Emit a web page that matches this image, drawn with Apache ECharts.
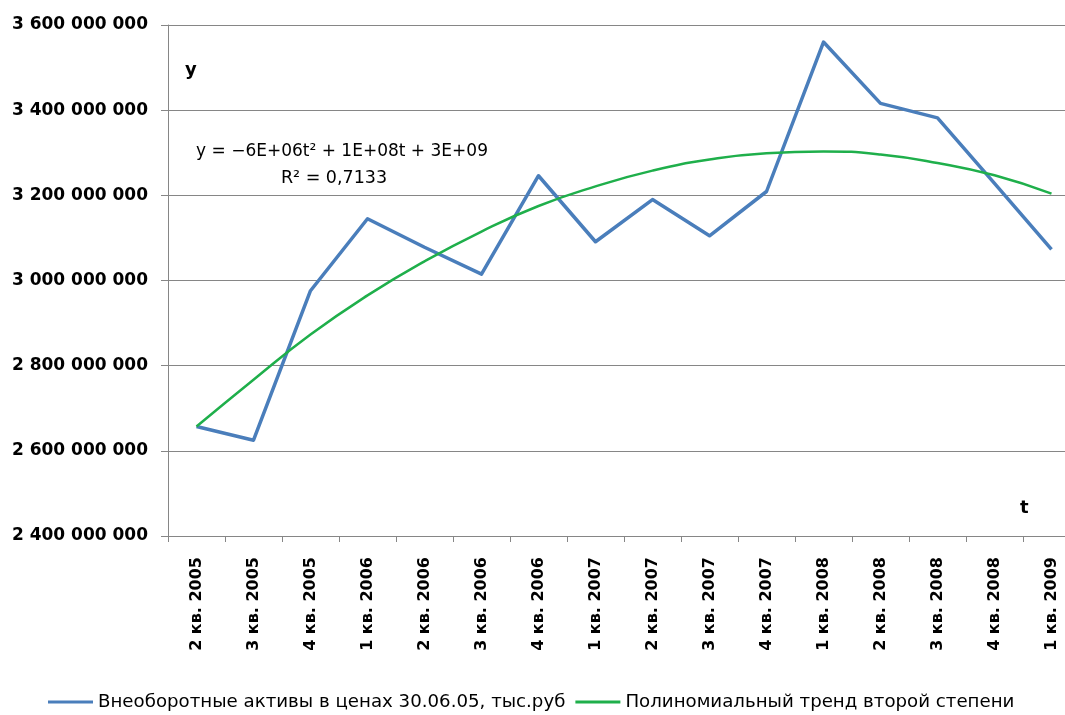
<!DOCTYPE html>
<html>
<head>
<meta charset="utf-8">
<script src="https://cdn.jsdelivr.net/npm/echarts@6/dist/echarts.min.js"></script>
<style>
  html, body { margin: 0; padding: 0; background: #ffffff; overflow: hidden; }
  /* the plot area runs a little past the right edge of the window */
  #chart { width: 1080px; height: 715px; }
</style>
</head>
<body>
<div id="chart"></div>
<script>
// Quarters
const quarters = [
  '2 кв. 2005', '3 кв. 2005', '4 кв. 2005',
  '1 кв. 2006', '2 кв. 2006', '3 кв. 2006', '4 кв. 2006',
  '1 кв. 2007', '2 кв. 2007', '3 кв. 2007', '4 кв. 2007',
  '1 кв. 2008', '2 кв. 2008', '3 кв. 2008', '4 кв. 2008',
  '1 кв. 2009'
];

// Non-current assets, thousand roubles (prices of 30.06.05)
const assets = [
  2657000000, 2625000000, 2976000000,
  3145000000, 3078000000, 3015000000, 3246000000,
  3091000000, 3190000000, 3105000000, 3209000000,
  3560000000, 3416000000, 3382000000, 3228000000,
  3073000000
];

// Second-degree polynomial trend, value at each quarter
const trend = [
  2657000000, 2767000000, 2873000000,
  2965000000, 3045000000, 3115000000, 3175000000,
  3221000000, 3258000000, 3284000000, 3299000000,
  3303000000, 3296000000, 3276000000, 3247000000,
  3204000000
];

const seriesNames = [
  'Внеоборотные активы в ценах 30.06.05, тыс.руб',
  'Полиномиальный тренд второй степени'
];

const equationLines = ['y = −6E+06t² + 1E+08t + 3E+09', 'R² = 0,7133'];

const axisGray = '#868686';
const font = 'DejaVu Sans';

function spaced(v) {
  return String(Math.round(v)).replace(/\B(?=(\d{3})+(?!\d))/g, ' ');
}

const chart = echarts.init(document.getElementById('chart'), null, { renderer: 'canvas' });

chart.setOption({
  backgroundColor: '#ffffff',
  animation: false,
  grid: { left: 168, top: 25, bottom: 179, right: 0, containLabel: false },
  legend: {
    left: 43,
    top: 688,
    itemWidth: 45,
    itemHeight: 3,
    itemGap: 10,
    icon: 'rect',
    textStyle: { fontFamily: font, fontSize: 18.2, color: '#000000' },
    data: seriesNames
  },
  xAxis: {
    type: 'category',
    data: quarters,
    boundaryGap: true,
    axisLine: { lineStyle: { color: axisGray, width: 1 } },
    axisTick: { show: true, length: 6, alignWithLabel: false, lineStyle: { color: axisGray } },
    axisLabel: {
      interval: 0,
      rotate: 90,
      margin: 21,
      fontFamily: font,
      fontWeight: 'bold',
      fontSize: 16,
      color: '#000000'
    },
    splitLine: { show: false }
  },
  yAxis: {
    type: 'value',
    min: 2400000000,
    max: 3600000000,
    interval: 200000000,
    axisLine: { show: true, lineStyle: { color: axisGray, width: 1 } },
    axisTick: { show: true, length: 7, lineStyle: { color: axisGray } },
    axisLabel: {
      margin: 20,
      fontFamily: font,
      fontWeight: 'bold',
      fontSize: 17,
      color: '#000000',
      formatter: spaced
    },
    splitLine: { show: true, lineStyle: { color: axisGray, width: 1 } }
  },
  graphic: [
    {
      type: 'text', left: 185, top: 61,
      style: { text: 'y', font: 'bold 18px ' + font, fill: '#000000' }
    },
    {
      type: 'text', left: 1020, top: 499,
      style: { text: 't', font: 'bold 18px ' + font, fill: '#000000' }
    },
    {
      type: 'text', x: 342, y: 152,
      style: { text: equationLines[0], font: '17px ' + font, fill: '#000000', align: 'center', verticalAlign: 'middle' }
    },
    {
      type: 'text', x: 334, y: 178,
      style: { text: equationLines[1], font: '17.5px ' + font, fill: '#000000', align: 'center', verticalAlign: 'middle' }
    }
  ],
  series: [
    {
      name: seriesNames[0],
      type: 'line',
      data: assets,
      showSymbol: false,
      symbol: 'none',
      color: '#4a7ebb',
      lineStyle: { color: '#4a7ebb', width: 3.5, join: 'round' },
      z: 3
    },
    {
      name: seriesNames[1],
      type: 'line',
      data: trend,
      showSymbol: false,
      symbol: 'none',
      smooth: true,
      color: '#1faf4b',
      lineStyle: { color: '#1faf4b', width: 2.5 },
      z: 4
    }
  ]
});
</script>
</body>
</html>
